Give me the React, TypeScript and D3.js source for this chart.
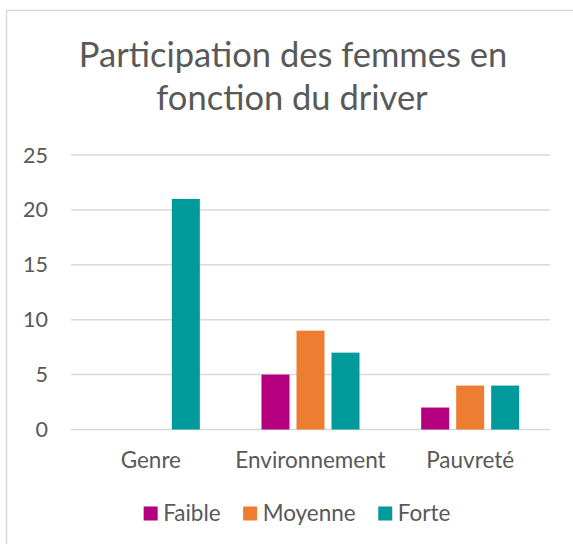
import * as d3 from "d3";
import { useEffect, useRef } from "react";

const categories = ["Genre", "Environnement", "Pauvreté"];
const seriesNames = ["Faible", "Moyenne", "Forte"];
const faible = [0, 5, 2];
const moyenne = [0, 9, 4];
const forte = [21, 7, 4];
const yTicks = [0, 5, 10, 15, 20, 25];
const colors = ["#B4007E", "#ED7D31", "#009A9A"];

const FONT = "Lato, 'Open Sans', sans-serif";
const TEXT = "#595959";
const GRID = "#d9d9d9";

const App = () => {
  const ref = useRef<SVGSVGElement>(null);

  useEffect(() => {
    const svg = d3.select(ref.current);
    svg.selectAll("*").remove();
    const width = 573;
    const height = 544;
    svg.attr("width", width).attr("height", height);

    // chart frame (only left and top edges are in view)
    svg
      .append("rect")
      .attr("x", 6.5)
      .attr("y", 10.5)
      .attr("width", 700)
      .attr("height", 700)
      .attr("fill", "#fff")
      .attr("stroke", GRID)
      .attr("stroke-width", 1.5);

    const title = svg
      .append("text")
      .attr("text-anchor", "middle")
      .attr("fill", TEXT)
      .style("font-family", FONT)
      .style("font-size", "34.5px");
    title.append("tspan").attr("x", 293).attr("y", 66.5).text("Participation des femmes en");
    title.append("tspan").attr("x", 292).attr("y", 110).text("fonction du driver");

    const plot = { left: 71, right: 550, top: 155, bottom: 429.5 };

    const y = d3.scaleLinear().domain([0, 25]).range([plot.bottom, plot.top]);
    const x0 = d3.scaleBand<string>().domain(categories).range([plot.left, plot.right]);
    const groupW = 98;
    const x1 = d3
      .scaleBand<string>()
      .domain(seriesNames)
      .range([(x0.bandwidth() - groupW) / 2, (x0.bandwidth() + groupW) / 2])
      .paddingInner(0.2);

    // gridlines
    svg
      .append("g")
      .selectAll("line")
      .data(yTicks)
      .enter()
      .append("line")
      .attr("x1", plot.left)
      .attr("x2", plot.right)
      .attr("y1", (d) => y(d))
      .attr("y2", (d) => y(d))
      .attr("stroke", GRID)
      .attr("stroke-width", 1.5);

    // y tick labels
    svg
      .append("g")
      .selectAll("text")
      .data(yTicks)
      .enter()
      .append("text")
      .attr("x", 48)
      .attr("y", (d) => y(d) + 7.5)
      .attr("text-anchor", "end")
      .attr("fill", TEXT)
      .style("font-family", FONT)
      .style("font-size", "21.5px")
      .text((d) => d);

    const values = [faible, moyenne, forte];
    const rows = categories.flatMap((c, i) =>
      seriesNames.map((s, j) => ({ c, s, v: values[j][i], color: colors[j] }))
    );

    svg
      .append("g")
      .selectAll("rect")
      .data(rows.filter((d) => d.v > 0))
      .enter()
      .append("rect")
      .attr("x", (d) => x0(d.c)! + x1(d.s)!)
      .attr("width", x1.bandwidth())
      .attr("y", (d) => y(d.v))
      .attr("height", (d) => y(0) - y(d.v))
      .attr("fill", (d) => d.color);

    // category labels
    svg
      .append("g")
      .selectAll("text")
      .data(categories)
      .enter()
      .append("text")
      .attr("x", (d) => x0(d)! + x0.bandwidth() / 2)
      .attr("y", 468)
      .attr("text-anchor", "middle")
      .attr("fill", TEXT)
      .style("font-family", FONT)
      .style("font-size", "22.5px")
      .text((d) => d);

    // legend
    const legend = svg.append("g");
    let cx = 0;
    seriesNames.forEach((name, i) => {
      const item = legend.append("g").attr("transform", `translate(${cx},0)`);
      item
        .append("rect")
        .attr("x", 0)
        .attr("y", 506.5)
        .attr("width", 14)
        .attr("height", 14)
        .attr("fill", colors[i]);
      const t = item
        .append("text")
        .attr("x", 19.5)
        .attr("y", 521)
        .attr("fill", TEXT)
        .style("font-family", FONT)
        .style("font-size", "22.5px")
        .text(name);
      const w = (t.node() as SVGTextElement).getComputedTextLength();
      cx += 19.5 + w + 22.5;
    });
    const total = cx - 22.5;
    legend.attr("transform", `translate(${297 - total / 2},0)`);
  }, []);

  return <svg ref={ref} style={{ position: "absolute", left: 0, top: 0 }}></svg>;
};

export default App;
